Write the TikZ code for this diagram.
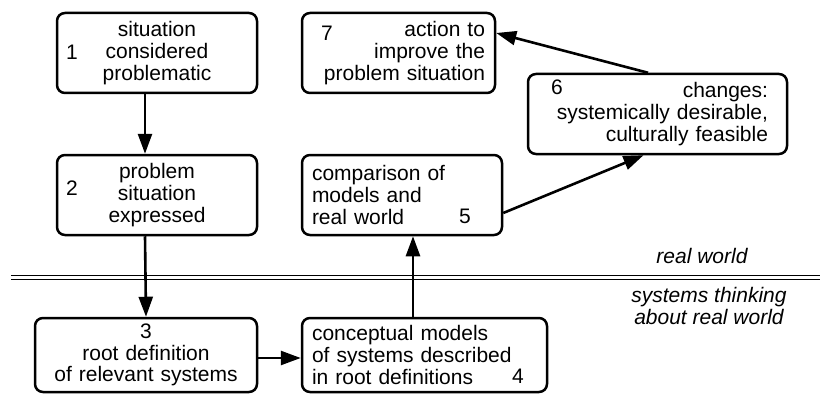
\documentclass[tikz,border=0pt]{standalone}
\usepackage{fontspec}
\setmainfont{Liberation Sans}
\usetikzlibrary{arrows.meta}
\begin{document}
\begin{tikzpicture}[x=1pt,y=-1pt,
  box/.style={draw, line width=2.5pt, rounded corners=8pt, inner xsep=10pt, inner ysep=0pt,
    minimum height=80pt, font=\fontsize{21}{21.7}\selectfont},
  num/.style={inner sep=0pt, font=\fontsize{21}{21.7}\selectfont},
  lbl/.style={inner sep=0pt, align=center, font=\fontsize{21}{21.7}\selectfont\itshape},
  arr/.style={line width=2.6pt, -{Triangle[length=20pt,width=14pt]}},
  sep/.style={line width=1pt}]
\useasboundingbox (0,0) rectangle (820,396);
% boxes
\node[box, text width=180pt, align=center] (n1) at (157,53) {situation\\considered\\problematic};
\node[num] (k1) at (72,52) {1};
\node[box, text width=180pt, align=center] (n2) at (157,195) {problem\\situation\\expressed};
\node[num] (k2) at (72,188) {2};
\node[box, text width=202pt, align=center, minimum height=74pt] (n3) at (146,355) {3\\root definition\\of relevant systems};
\node[box, text width=225pt, align=left, minimum height=74pt] (n4) at (424.5,355) {conceptual models\\of systems described\\in root definitions};
\node[num] (k4) at (518,376) {4};
\node[box, text width=180pt, align=left] (n5) at (402,195) {comparison of\\models and\\real world};
\node[num] (k5) at (465,216) {5};
\node[box, text width=221pt, inner xsep=19pt, align=right] (n6) at (657.5,114) {changes:\\systemically desirable,\\culturally feasible};
\node[num] (k6) at (557,87) {6};
\node[box, text width=173pt, align=right] (n7) at (398.5,53) {action to\\improve the\\problem situation};
\node[num] (k7) at (327,33) {7};
% labels
\node[lbl] (rw) at (702,256) {real world};
\node[lbl] (st) at (709,306) {systems thinking\\about real world};
% separator
\coordinate (s1l) at (11,275); \coordinate (s1r) at (820,275);
\coordinate (s2l) at (11,279); \coordinate (s2r) at (820,279);
\draw[sep] (s1l) -- (s1r);
\draw[sep] (s2l) -- (s2r);
% arrows
\draw[arr] ([xshift=-12pt]n1.south) -- ([xshift=-12pt]n2.north);
\draw[arr] ([xshift=-12pt]n2.south) -- (n3.north);
\draw[arr] ([yshift=-3pt]n3.east) -- ([yshift=-3pt]n4.west);
\draw[arr] ([xshift=-11.5pt]n4.north) -- ([xshift=11pt]n5.south);
\draw[arr] ([yshift=-18pt]n5.east) -- ([xshift=-14pt]n6.south);
\draw[arr] ([xshift=-9.5pt]n6.north) -- ([yshift=20pt]n7.east);
\end{tikzpicture}
\end{document}
